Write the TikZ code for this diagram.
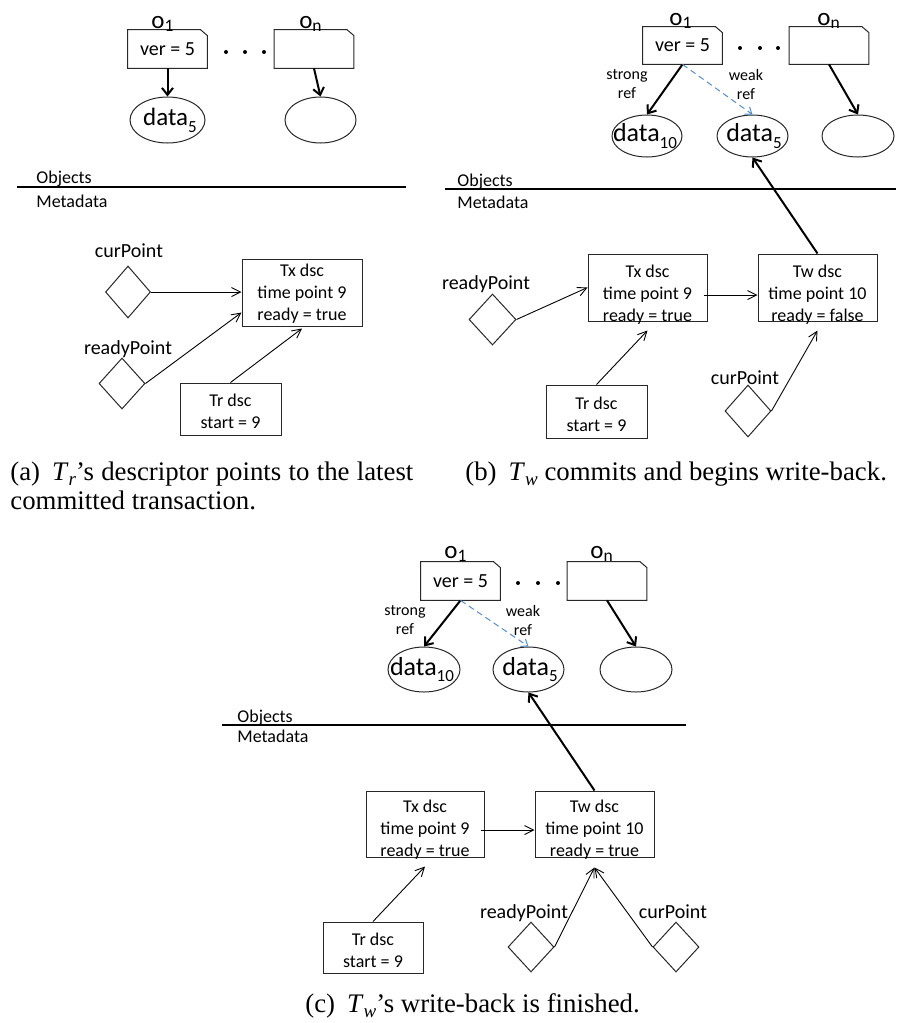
\documentclass[tikz,border=0pt]{standalone}
\usepackage{fontspec}
\setmainfont{Liberation Serif}
\newfontfamily\calib{Carlito}
\usetikzlibrary{shapes.geometric,arrows.meta}
\definecolor{weakblue}{RGB}{85,142,205}
\definecolor{lineblk}{RGB}{40,40,40}
\newcommand\capsub[1]{\raisebox{-0.22em}{\fontsize{9.5}{10}\selectfont\textit{#1}}}
\newcommand\dsub[1]{\raisebox{-3.4pt}{\fontsize{8.5}{9}\selectfont #1}}
\newcommand\foldbox[1]{\draw[boxline] (#1.south west) -- (#1.north west) -- ([xshift=-3.5pt]#1.north east) -- ([yshift=-3pt]#1.north east) -- (#1.south east) -- cycle;}
\tikzset{
  boxline/.style={draw=lineblk, line width=0.5pt},
  objbox/.style={inner sep=0pt, minimum width=39.5pt, minimum height=19pt, font=\calib\fontsize{10}{12}\selectfont},
  objlbl/.style={inner sep=0pt, anchor=base, font=\calib\fontsize{12.5}{14}\selectfont},
  dbox/.style={rectangle, draw=lineblk, line width=0.5pt, inner sep=0pt},
  dtext/.style={font=\calib\fontsize{9}{11}\selectfont, align=center, inner sep=0pt},
  dia/.style={diamond, draw=lineblk, line width=0.5pt, inner sep=0pt},
  ell/.style={ellipse, draw=lineblk, line width=0.5pt, inner sep=0pt, minimum height=23pt},
  datat/.style={inner sep=0pt, font=\calib\fontsize{13}{15}\selectfont},
  lbl/.style={inner sep=0pt, anchor=base, font=\calib\fontsize{10}{12}\selectfont},
  seclbl/.style={inner sep=0pt, anchor=base west, font=\calib\fontsize{9}{11}\selectfont},
  reflbl/.style={inner sep=0pt, align=center, font=\calib\fontsize{8}{9.5}\selectfont},
  objarrow/.style={line width=1pt, -{Straight Barb[length=3.5pt,width=5.5pt]}},
  thinarrow/.style={line width=0.45pt, -{Straight Barb[length=4.5pt,width=4.5pt]}},
  weakarrow/.style={draw=weakblue, line width=0.5pt, dash pattern=on 3pt off 2pt, -{Straight Barb[length=3pt,width=4.5pt]}},
  divider/.style={line width=1.2pt},
  captext/.style={inner sep=0pt, anchor=base west, font=\fontsize{13.4}{16}\selectfont},
}
\begin{document}
\begin{tikzpicture}[x=0.5pt,y=-0.5pt]
\useasboundingbox (0,0) rectangle (896,1023);

% ================= Panel (a) =================
\node[objbox] (a-o1) at (167.5,49) {\raisebox{-2pt}{ver = 5}};
\foldbox{a-o1}
\node[objlbl] (a-o1l) at (163,28) {o\textsubscript{1}};
\node[objbox] (a-on) at (314,49) {};
\foldbox{a-on}
\node[objlbl] (a-onl) at (311,28) {o\textsubscript{n}};
\fill (226,52) circle[radius=2] (245,52) circle[radius=2] (264,52) circle[radius=2];
\node[ell, minimum width=37.5pt] (a-d5) at (167.5,120) {};
\node[datat, font=\calib\fontsize{12.5}{14}\selectfont] (a-d5t) at (170,120) {data\dsub{5}};
\node[ell, minimum width=35.5pt] (a-dn) at (320.5,120) {};
\draw[objarrow] (a-o1.south) -- (a-d5.north);
\draw[objarrow] (a-on.south) -- (a-dn.north);
\node[seclbl] (a-obj) at (36,183) {Objects};
\coordinate (a-l1) at (17,187);
\coordinate (a-l2) at (406,187);
\draw[divider] (a-l1) -- (a-l2);
\node[seclbl] (a-meta) at (36,207) {Metadata};

\node[dia, minimum width=22.5pt, minimum height=26pt] (a-cur) at (128,292) {};
\node[lbl] (a-curl) at (129,257) {curPoint};
\node[dbox, minimum width=60pt, minimum height=33.5pt] (a-tx) at (302,292.5) {};
\node[dtext] (a-txt) at (302,294) {Tx dsc\\time point 9\\ready = true};
\node[dia, minimum width=23pt, minimum height=25.5pt] (a-ready) at (122,383.5) {};
\node[lbl] (a-readyl) at (128,354) {readyPoint};
\node[dbox, minimum width=50.5pt, minimum height=26pt] (a-tr) at (230.5,409) {};
\node[dtext] (a-trt) at (230.5,411) {Tr dsc\\start = 9};
\draw[thinarrow] (a-cur.east) -- (a-cur.east -| a-tx.west);
\draw[thinarrow] (a-ready.east) -- ([yshift=-10pt]a-tx.west);
\draw[thinarrow] (a-tr.north) -- ([yshift=-1pt]a-tx.south);

% ================= Panel (b) =================
\node[objbox, minimum height=18.5pt] (b-o1) at (682.5,45.5) {\raisebox{-2.5pt}{ver = 5}};
\foldbox{b-o1}
\node[objlbl] (b-o1l) at (681,25) {o\textsubscript{1}};
\node[objbox, minimum height=18.5pt] (b-on) at (829,45.5) {};
\foldbox{b-on}
\node[objlbl] (b-onl) at (829,25) {o\textsubscript{n}};
\fill (740,48) circle[radius=2] (760,48) circle[radius=2] (778,48) circle[radius=2];
\node[reflbl] (b-strong) at (627,84) {strong\\ref};
\node[reflbl] (b-weak) at (746,84) {weak\\ref};
\node[ell, minimum width=35pt, minimum height=21pt] (b-d10) at (647,136) {};
\node[datat] (b-d10t) at (645,136) {data\dsub{10}};
\node[ell, minimum width=35.5pt, minimum height=21pt] (b-d5) at (752.5,136) {};
\node[datat] (b-d5t) at (754,136) {data\dsub{5}};
\node[ell, minimum width=36pt, minimum height=21pt] (b-dn) at (858,136) {};
\draw[objarrow] (b-o1.south) -- (b-d10.north);
\draw[weakarrow] (b-o1.south) -- (b-d5.north);
\draw[objarrow] (b-on.south) -- (b-dn.north);
\node[seclbl] (b-obj) at (457,186) {Objects};
\coordinate (b-l1) at (445,189);
\coordinate (b-l2) at (896,189);
\draw[divider] (b-l1) -- (b-l2);
\node[seclbl] (b-meta) at (457,208) {Metadata};

\node[dbox, minimum width=59.5pt, minimum height=33.5pt] (b-tx) at (647.5,287.5) {};
\node[dtext] (b-txt) at (647.5,295) {Tx dsc\\time point 9\\ready = true};
\node[dbox, minimum width=59.5pt, minimum height=33.5pt] (b-tw) at (817.5,287.5) {};
\node[dtext] (b-twt) at (817.5,295) {Tw dsc\\time point 10\\ready = false};
\node[dia, minimum width=23.5pt, minimum height=25.5pt] (b-ready) at (492.5,319.5) {};
\node[lbl] (b-readyl) at (486,289) {readyPoint};
\node[dbox, minimum width=50.5pt, minimum height=26.5pt] (b-tr) at (596.5,411.5) {};
\node[dtext] (b-trt) at (596.5,414) {Tr dsc\\start = 9};
\node[dia, minimum width=23pt, minimum height=26pt] (b-cur) at (748,411) {};
\node[lbl] (b-curl) at (745,384) {curPoint};
\draw[thinarrow] ([xshift=-2pt]b-tx.east |- b-txt.center) -- (b-tw.west |- b-txt.center);
\draw[thinarrow] (b-ready.east) -- (b-tx.west);
\draw[thinarrow] (b-tr.north) -- ([yshift=-4.5pt]b-tx.south);
\draw[thinarrow] (b-cur.east) -- ([yshift=-4.5pt]b-tw.south);
\draw[objarrow] (b-tw.north) -- (b-d5.south);

% ================= Panel (c) =================
\node[objbox] (c-o1) at (460.5,581) {\raisebox{-2.5pt}{ver = 5}};
\foldbox{c-o1}
\node[objlbl] (c-o1l) at (456,558) {o\textsubscript{1}};
\node[objbox] (c-on) at (607,581) {};
\foldbox{c-on}
\node[objlbl] (c-onl) at (602,558) {o\textsubscript{n}};
\fill (518,583) circle[radius=2] (538,583) circle[radius=2] (558,583) circle[radius=2];
\node[reflbl] (c-strong) at (405,620) {strong\\ref};
\node[reflbl] (c-weak) at (523,620) {weak\\ref};
\node[ell, minimum width=36pt, minimum height=22.5pt] (c-d10) at (424,669.5) {};
\node[datat] (c-d10t) at (422,669.5) {data\dsub{10}};
\node[ell, minimum width=35.5pt, minimum height=22.5pt] (c-d5) at (528.5,669.5) {};
\node[datat] (c-d5t) at (530,669.5) {data\dsub{5}};
\node[ell, minimum width=36pt, minimum height=22.5pt] (c-dn) at (636,669.5) {};
\draw[objarrow] (c-o1.south) -- (c-d10.north);
\draw[weakarrow] (c-o1.south) -- (c-d5.north);
\draw[objarrow] (c-on.south) -- (c-dn.north);
\node[seclbl] (c-obj) at (237,722) {Objects};
\coordinate (c-l1) at (222,725);
\coordinate (c-l2) at (686,725);
\draw[divider] (c-l1) -- (c-l2);
\node[seclbl] (c-meta) at (237,742) {Metadata};

\node[dbox, minimum width=59pt, minimum height=33pt] (c-tx) at (425,824) {};
\node[dtext] (c-txt) at (425,830) {Tx dsc\\time point 9\\ready = true};
\node[dbox, minimum width=59.5pt, minimum height=33pt] (c-tw) at (594.5,824) {};
\node[dtext] (c-twt) at (594.5,830) {Tw dsc\\time point 10\\ready = true};
\node[dbox, minimum width=50pt, minimum height=25.5pt] (c-tr) at (373,947.5) {};
\node[dtext] (c-trt) at (373,950) {Tr dsc\\start = 9};
\node[dia, minimum width=23pt, minimum height=25pt] (c-ready) at (531,947) {};
\node[lbl] (c-readyl) at (524,918) {readyPoint};
\node[dia, minimum width=23pt, minimum height=25pt] (c-cur) at (676,947) {};
\node[lbl] (c-curl) at (673,918) {curPoint};
\draw[thinarrow] ([xshift=-2pt]c-tx.east |- c-txt.center) -- (c-tw.west |- c-txt.center);
\draw[thinarrow] (c-tr.north) -- ([yshift=-4.5pt]c-tx.south);
\draw[thinarrow] (c-ready.east) -- ([yshift=-5pt]c-tw.south);
\draw[thinarrow] (c-cur.west) -- ([yshift=-5pt]c-tw.south);
\draw[objarrow] (c-tw.north) -- (c-d5.south);

% ================= Captions =================
\node[captext] (cap-a1) at (10,480) {\makebox[201.5pt][s]{(a)\hspace{0.45em}\textit{T}\capsub{r}’s descriptor points to the latest}};
\node[captext] (cap-a2) at (10,509) {committed transaction.};
\node[captext] (cap-b) at (465,480) {(b)\hspace{0.45em}\textit{T}\capsub{w} commits and begins write-back.};
\node[captext] (cap-c) at (305,1012) {(c)\hspace{0.45em}\textit{T}\capsub{w}’s write-back is finished.};
\end{tikzpicture}
\end{document}
